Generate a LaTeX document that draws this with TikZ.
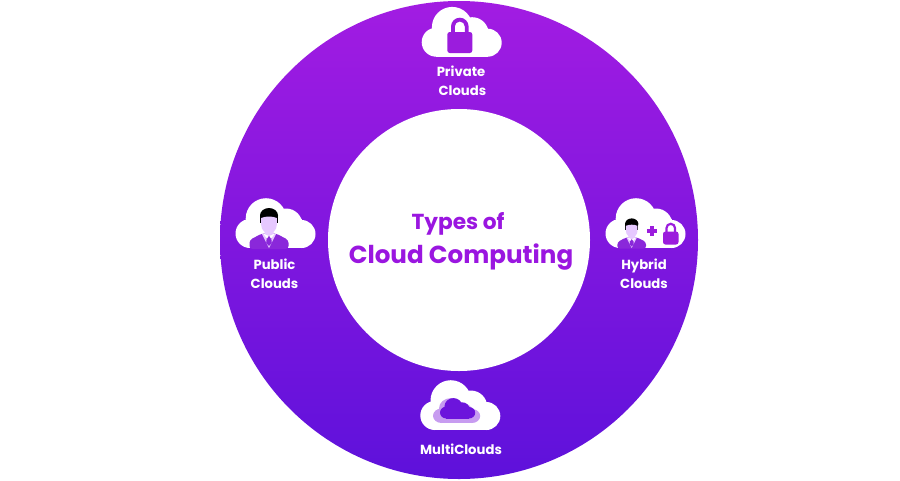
\documentclass[tikz,border=0pt]{standalone}
\usepackage{fontspec}
\setmainfont{Poppins}
\definecolor{ringtop}{HTML}{A21CE2}
\definecolor{ringbot}{HTML}{5E11DB}
\definecolor{titlec}{HTML}{9A16E0}
\definecolor{lockc}{HTML}{9B1CDD}
\definecolor{suitc}{HTML}{8A28DA}
\definecolor{facec}{HTML}{E6C8FF}
\definecolor{lavc}{HTML}{C79CF0}
\definecolor{darkc}{HTML}{6C14DC}
\tikzset{
  hubdisc/.style={circle,minimum size=262pt,inner sep=0pt,fill=white,draw=none},
  lab/.style={text=white,font=\fontsize{13.2}{19}\selectfont\bfseries,align=center,inner sep=0pt},
  tita/.style={text=titlec,font=\fontsize{21.7}{24}\selectfont\bfseries,inner sep=0pt},
  titb/.style={text=titlec,font=\fontsize{24.6}{28}\selectfont\bfseries,inner sep=0pt}
}
% cloud: origin bottom-left, 80 wide, 50 tall
\newcommand{\cloudshape}[1]{%
  \fill[#1] (14.5,-14.5) circle[radius=14.5];
  \fill[#1] (30.5,-29.5) circle[radius=20.3];
  \fill[#1] (50.5,-23) circle[radius=16.5];
  \fill[#1] (66,-14) circle[radius=14];
  \fill[#1] (14.5,-29) rectangle (66,0);}
% lock: origin at body top-left corner of a 25 wide lock
\newcommand{\lockshape}[1]{%
  \fill[#1,even odd rule] (3.7,1) -- (3.7,-5.5) arc[start angle=180,end angle=360,radius=8.8] -- (21.3,1) -- cycle
     (7.5,1) -- (7.5,-5.5) arc[start angle=180,end angle=360,radius=5] -- (17.5,1) -- cycle;
  \fill[#1,rounded corners=2.5pt] (0,0) rectangle (25,21);}
% person: origin at bottom centre, 38 wide
\newcommand{\personshape}{%
  \fill[suitc,rounded corners=3pt] (-19.5,1) -- (-19.5,-8) -- (-7,-14.5) -- (7,-14.5) -- (19.5,-8) -- (19.5,1) -- cycle;
  \fill[facec] (-7,-14) -- (0,0) -- (7,-14) -- cycle;
  \fill[suitc] (-2,-12.5) -- (2,-12.5) -- (2.8,-5) -- (0,-2) -- (-2.8,-5) -- cycle;
  \fill[white] (-5.5,-14) -- (-2,-9.5) -- (0,-12.5) -- (2,-9.5) -- (5.5,-14) -- cycle;
  \fill[facec] (-4.5,-18) -- (4.5,-18) -- (4.5,-14) -- (0,-12) -- (-4.5,-14) -- cycle;
  \fill[black] (0,-32.5) ellipse[x radius=9,y radius=7.5];
  \fill[black] (-8.8,-32) rectangle (-7,-25);
  \fill[black] (8.8,-32) rectangle (7,-25);
  \fill[facec] (-7.8,-30) .. controls (-3,-32) and (3,-32) .. (7.8,-30) -- (7.8,-23) .. controls (7.8,-17.5) and (3,-14.5) .. (0,-14.5) .. controls (-3,-14.5) and (-7.8,-17.5) .. (-7.8,-23) -- cycle;}
\begin{document}
\begin{tikzpicture}[x=1pt,y=-1pt]
\useasboundingbox (0,0) rectangle (900,480);
\fill[white] (0,0) rectangle (900,480);
\begin{scope}
  \clip (459,240) circle[radius=239];
  \shade[top color=ringtop,bottom color=ringbot] (210,1) rectangle (708,479);
\end{scope}
\node[hubdisc] (hub) at (459,240) {};
% private
\begin{scope}[shift={(421.7,56.7)}]
  \cloudshape{white}
  \begin{scope}[shift={(25.6,-24.7)}]\lockshape{lockc}\end{scope}
\end{scope}
% public
\begin{scope}[shift={(235.5,248)}]
  \cloudshape{white}
\end{scope}
\begin{scope}[shift={(269,248)}]\personshape\end{scope}
% hybrid
\begin{scope}[shift={(605.5,248)}]
  \cloudshape{white}
\end{scope}
\begin{scope}[shift={(631.7,248)},scale=.74]\personshape\end{scope}
\fill[lockc] (650.4,226) rectangle (654.4,236);
\fill[lockc] (647.4,229) rectangle (657.4,233);
\begin{scope}[shift={(663,231.5)},scale=.62]\lockshape{lockc}\end{scope}
% multi
\begin{scope}[shift={(420.3,430)}]
  \cloudshape{white}
\end{scope}
\begin{scope}[shift={(433,423)},xscale=.59,yscale=.5]\cloudshape{lavc}\end{scope}
\begin{scope}[shift={(440,418.5)},xscale=.44,yscale=.41]\cloudshape{darkc}\end{scope}
% labels
\node[lab] (privl) at (461,81) {Private\\\ Clouds};
\node[lab] (publ) at (274.5,274) {Public\\Clouds};
\node[lab] (hybl) at (644,274) {Hybrid\\Clouds};
\node[lab] (mull) at (461,449.5) {MultiClouds};
\node[tita] (t1) at (458,224) {Types of};
\node[titb] (t2) at (461,257) {Cloud Computing};
\end{tikzpicture}
\end{document}
